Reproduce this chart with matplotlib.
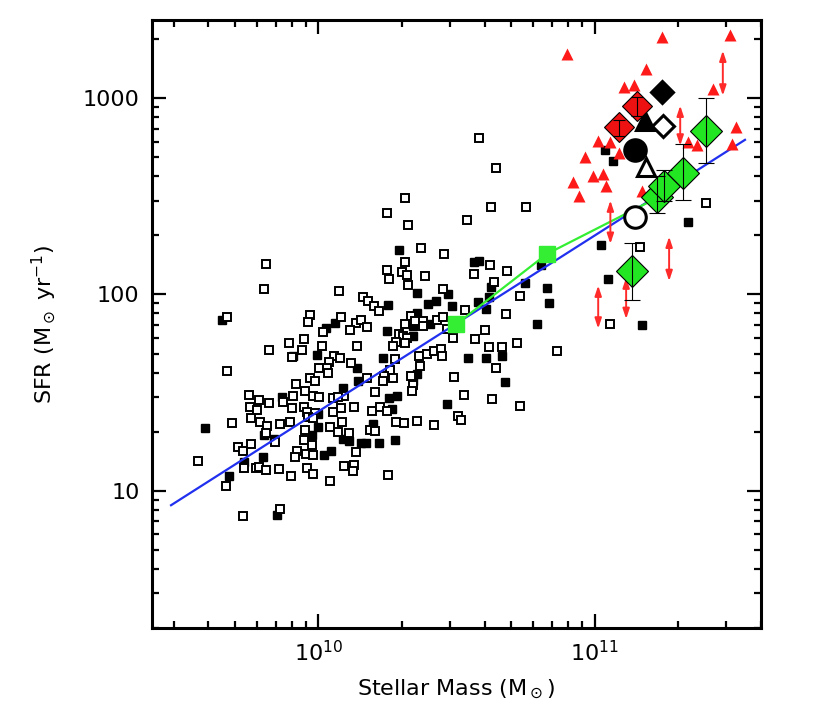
import numpy as np
import matplotlib
matplotlib.use('Agg')
import matplotlib.pyplot as plt
from matplotlib.ticker import LogLocator, FuncFormatter, NullFormatter

plt.rcParams['font.family'] = ['DejaVu Sans']
plt.rcParams['mathtext.fontset'] = 'dejavusans'

# --- data (log10 stellar mass, log10 SFR) ---
open_logm = [9.803, 10.075, 10.326, 10.450, 10.163, 10.181, 10.203, 10.218, 9.671, 9.970,
             9.963, 10.082, 10.136, 10.153, 10.176, 10.115, 10.018, 10.335, 10.350, 10.314,
             10.377, 10.380, 10.428, 10.452, 10.464, 10.293, 10.308, 10.320, 10.280, 10.269,
             10.314, 9.895, 9.948, 9.941, 9.822, 10.014, 10.140, 9.904, 10.058, 10.078,
             10.040, 10.118, 10.002, 10.030, 10.036, 10.279, 10.259, 10.365, 10.392, 10.418,
             10.443, 10.446, 10.368, 9.670, 9.970, 9.988, 9.918, 9.951, 9.981, 10.002,
             9.910, 10.177, 10.239, 10.235, 10.271, 10.336, 10.341, 10.339, 10.094, 10.206,
             9.748, 9.784, 9.820, 9.871, 10.052, 10.072, 9.753, 9.779, 9.905, 9.949,
             9.958, 10.129, 10.082, 10.052, 10.193, 10.223, 10.250, 9.988, 9.963, 9.982,
             9.755, 9.788, 9.813, 9.688, 9.861, 9.897, 10.086, 10.043, 10.072, 10.110,
             10.187, 10.205, 10.281, 10.310, 10.356, 10.418, 9.809, 9.842, 9.953, 9.949,
             9.976, 9.711, 9.729, 9.755, 9.924, 9.917, 9.955, 9.982, 10.136, 9.566,
             9.731, 9.774, 9.787, 9.809, 9.858, 9.665, 9.902, 9.958, 9.982, 10.092,
             10.130, 10.125, 10.042, 10.251, 9.729, 9.861,
             10.583, 10.642, 10.314, 10.250, 10.323, 10.626, 10.753, 10.537, 10.370, 10.455,
             10.312, 10.247, 10.257, 10.304, 10.320, 10.386, 10.622, 10.564, 10.681, 10.636,
             10.731, 10.531, 10.679, 10.486, 10.568, 10.603, 10.619, 10.666, 10.718, 10.862,
             10.643, 10.492, 10.527, 10.630, 10.729, 10.506, 10.516, 9.811,
             11.164, 11.402, 11.056]
open_logsfr = [2.028, 2.016, 2.050, 2.028, 1.985, 1.965, 1.943, 1.914, 1.887, 1.897,
               1.858, 1.887, 1.853, 1.870, 1.836, 1.819, 1.807, 1.892, 1.866, 1.849,
               1.866, 1.841, 1.870, 1.887, 1.824, 1.798, 1.790, 1.778, 1.756, 1.739,
               1.751, 1.751, 1.771, 1.719, 1.717, 1.737, 1.737, 1.683, 1.688, 1.676,
               1.654, 1.649, 1.625, 1.625, 1.598, 1.671, 1.615, 1.688, 1.696, 1.710,
               1.722, 1.688, 1.637, 1.608, 1.573, 1.561, 1.544, 1.510, 1.484, 1.479,
               1.482, 1.574, 1.586, 1.561, 1.574, 1.586, 1.539, 1.510, 1.484, 1.501,
               1.488, 1.462, 1.445, 1.454, 1.472, 1.476, 1.425, 1.413, 1.420, 1.428,
               1.403, 1.428, 1.420, 1.399, 1.408, 1.425, 1.408, 1.394, 1.374, 1.369,
               1.369, 1.350, 1.328, 1.345, 1.340, 1.348, 1.348, 1.323, 1.301, 1.292,
               1.309, 1.306, 1.348, 1.343, 1.353, 1.335, 1.292, 1.246, 1.311, 1.258,
               1.233, 1.221, 1.204, 1.238, 1.204, 1.173, 1.187, 1.182, 1.199, 1.150,
               1.116, 1.116, 1.122, 1.107, 1.111, 1.026, 1.073, 1.114, 1.085, 1.128,
               1.131, 1.099, 1.051, 1.082, 0.870, 0.905,
               2.797, 2.642, 2.491, 2.416, 2.354, 2.444, 2.444, 2.381, 2.236, 2.206,
               2.165, 2.124, 2.078, 2.112, 2.101, 2.095, 2.151, 2.104, 2.121, 2.061,
               1.990, 1.922, 1.898, 1.776, 1.773, 1.819, 1.730, 1.734, 1.752, 1.713,
               1.626, 1.581, 1.487, 1.468, 1.431, 1.380, 1.360, 2.153,
               2.244, 2.464, 1.849]

filled_logm = [10.356, 10.468, 10.251, 10.396, 10.426, 9.653, 10.060, 10.027, 10.247, 10.356,
               10.341, 10.404, 10.344, 9.910, 9.996, 10.139, 10.235, 10.356, 10.144, 10.344,
               10.090, 9.870, 10.256, 10.283, 10.466, 10.268, 9.998, 9.588, 9.998, 10.088,
               10.112, 10.197, 9.802, 9.840, 9.977, 10.153, 10.172, 10.218, 10.276, 9.799,
               10.019, 10.046, 9.732, 9.677, 9.849,
               10.291, 10.563, 10.581, 10.625, 10.619, 10.748, 10.829, 10.836, 10.579, 10.605,
               10.482, 10.790, 10.543, 10.605, 10.663, 10.805, 10.675,
               11.038, 11.068, 11.023, 11.050, 11.337, 11.173]
filled_logsfr = [2.005, 2.002, 1.948, 1.951, 1.968, 1.871, 1.853, 1.827, 1.815, 1.904,
                 1.841, 1.849, 1.790, 1.686, 1.691, 1.625, 1.676, 1.595, 1.561, 1.561,
                 1.523, 1.479, 1.472, 1.481, 1.442, 1.418, 1.391, 1.318, 1.326, 1.262,
                 1.255, 1.340, 1.286, 1.263, 1.282, 1.245, 1.243, 1.243, 1.258, 1.170,
                 1.184, 1.204, 1.145, 1.073, 0.876,
                 2.228, 2.163, 2.172, 2.039, 1.985, 2.060, 2.033, 1.954, 1.960, 1.926,
                 1.943, 1.849, 1.676, 1.676, 1.688, 2.152, 1.554,
                 2.736, 2.682, 2.254, 2.079, 2.368, 1.846]

# red triangles (mass in 1e11 Msun)
tri_mass = [0.793, 1.76, 3.09, 1.53, 1.28, 1.39, 2.69, 3.25, 3.13, 1.03, 1.14,
            0.923, 1.23, 0.989, 1.07, 0.837, 1.10, 0.881, 2.18, 2.34, 1.48]
tri_sfr = [1679, 2055, 2104, 1408, 1135, 1171, 1113, 710, 584, 603, 596,
           504, 524, 403, 411, 372, 358, 318, 596, 579, 338]

# red double arrows (mass in 1e11 Msun, SFR range)
arrow_mass = [2.91, 2.04, 1.14, 1.86, 1.03, 1.30]
arrow_lo = [1030, 573, 181, 117, 67, 75]
arrow_hi = [1745, 916, 301, 197, 111, 122]

# main-sequence fit (blue) and binned relation (green)
fit_mass = [2.93e9, 3.5e11]
fit_sfr = [8.44, 613]
bin_mass = [3.16e10, 6.71e10, 1.56e11]
bin_sfr = [70.6, 160.6, 294]

# green diamonds with error bars (mass in 1e11 Msun)
gd_mass = [1.36, 1.68, 1.78, 2.08, 2.53]
gd_sfr = [131, 312, 358, 414, 682]
gd_lo = [94, 259, 300, 301, 468]
gd_hi = [183, 400, 428, 585, 1000]

# red diamonds with error bars
rd_mass = [1.22, 1.42]
rd_sfr = [716, 916]
rd_lo = [644, 815]
rd_hi = [774, 1009]

# single black symbols (mass in 1e11 Msun)
sym_mass = [1.76, 1.77, 1.52, 1.40, 1.53, 1.40]
sym_sfr = [1071, 724, 768, 541, 444, 247]
sym_marker = ['D', 'D', '^', 'o', '^', 'o']
sym_filled = [True, False, True, True, False, False]
sym_size = [11.5, 11.5, 13, 15.5, 13, 15.5]

fig = plt.figure(figsize=(8.37, 7.27), dpi=100)
ax = fig.add_axes([0.1816, 0.1362, 0.7276, 0.8363])
ax.set_xscale('log')
ax.set_yscale('log')
ax.set_xlim(2.5e9, 4e11)
ax.set_ylim(2, 2500)

# squares
ax.plot(10 ** np.array(filled_logm), 10 ** np.array(filled_logsfr), 's', ms=5.2,
        mfc='black', mec='black', mew=1, ls='none', zorder=2)
ax.plot(10 ** np.array(open_logm), 10 ** np.array(open_logsfr), 's', ms=5.4,
        mfc='white', mec='black', mew=1.4, ls='none', zorder=2)

ax.plot(fit_mass, fit_sfr, color='#2030ee', lw=1.6, zorder=3)
ax.plot(bin_mass, bin_sfr, color='#33ee33', lw=1.6, zorder=3)
ax.plot(bin_mass[:2], bin_sfr[:2], 's', ms=11, color='#33ee33', zorder=4)

ax.plot(np.array(tri_mass) * 1e11, tri_sfr, '^', ms=8.5, color='#ff1a1a', mec='none', zorder=4)

for m, lo, hi in zip(arrow_mass, arrow_lo, arrow_hi):
    ax.annotate('', xy=(m * 1e11, hi), xytext=(m * 1e11, lo),
                arrowprops=dict(arrowstyle='<|-|>,head_length=0.6,head_width=0.2',
                                color='#ff2a2a', lw=1.4, shrinkA=0, shrinkB=0),
                zorder=4)

for m, s, mk, fl, sz in zip(sym_mass, sym_sfr, sym_marker, sym_filled, sym_size):
    ax.plot(m * 1e11, s, mk, ms=sz, mfc='black' if fl else 'white', mec='black',
            mew=2.2, zorder=5)

gm = np.array(gd_mass) * 1e11
gs = np.array(gd_sfr)
ax.plot(gm, gs, 'D', ms=16, mfc='#22e622', mec='black', mew=0.8, ls='none', zorder=6)
ax.errorbar(gm, gs, yerr=[gs - np.array(gd_lo), np.array(gd_hi) - gs], fmt='none',
            ecolor='black', elinewidth=0.8, capsize=6, capthick=0.8, zorder=7)

rm = np.array(rd_mass) * 1e11
rs = np.array(rd_sfr)
ax.plot(rm, rs, 'D', ms=15, mfc='#ee1111', mec='black', mew=0.8, ls='none', zorder=6)
ax.errorbar(rm, rs, yerr=[rs - np.array(rd_lo), np.array(rd_hi) - rs], fmt='none',
            ecolor='black', elinewidth=0.8, capsize=4, capthick=0.8, zorder=7)

# axes styling
for sp in ax.spines.values():
    sp.set_linewidth(2.2)
ax.xaxis.set_major_locator(LogLocator(base=10, numticks=10))
ax.xaxis.set_minor_locator(LogLocator(base=10, subs=np.arange(2, 10), numticks=20))
ax.yaxis.set_major_locator(LogLocator(base=10, numticks=10))
ax.yaxis.set_minor_locator(LogLocator(base=10, subs=np.arange(2, 10), numticks=20))
ax.yaxis.set_major_formatter(FuncFormatter(lambda v, p: '%d' % v))
ax.yaxis.set_minor_formatter(NullFormatter())
ax.xaxis.set_minor_formatter(NullFormatter())
ax.tick_params(which='both', direction='in', top=True, right=True, width=1.6)
ax.tick_params(which='major', length=10, labelsize=16, pad=9)
ax.tick_params(which='minor', length=5)

ax.set_xlabel(r'Stellar Mass (M$_\odot$)', fontsize=16, labelpad=9)
ax.set_ylabel(r'SFR (M$_\odot$ yr$^{-1}$)', fontsize=16, labelpad=18)

fig.savefig('out.png', dpi=100)
